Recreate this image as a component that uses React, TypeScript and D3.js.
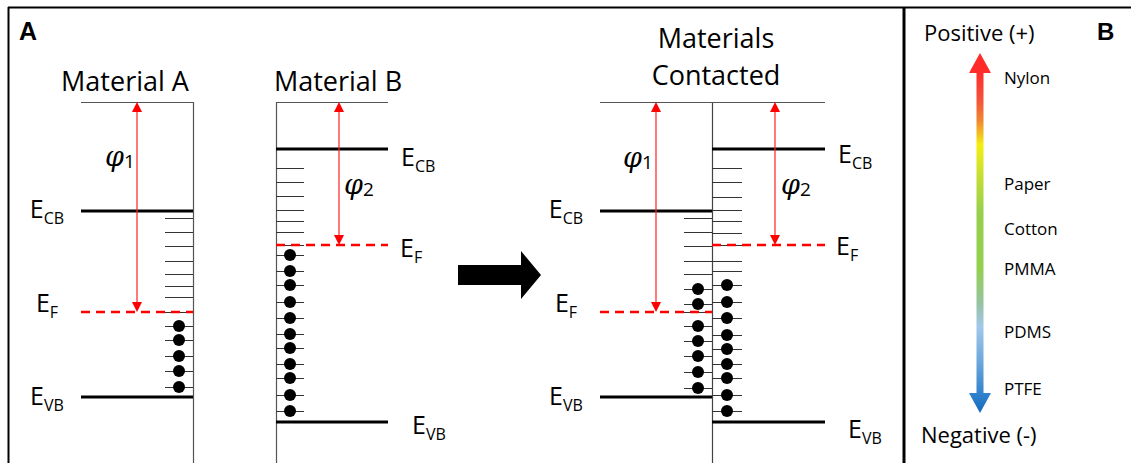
import React from 'react';
import * as d3 from 'd3';

// energies in eV below the vacuum level (0)
const matA_levels = { cb: -2.725, f: -5.25, vb: -7.375 };
const matA_empty = [-2.9, -3.25, -3.6, -3.975, -4.3, -4.6, -4.875];
const matA_filled = [-5.6, -5.95, -6.35, -6.725, -7.125];

const matB_levels = { cb: -1.175, f: -3.575, vb: -8.0 };
const matB_empty = [-1.65, -2.0, -2.35, -2.7, -2.975, -3.25];
const matB_filled = [-3.825, -4.225, -4.575, -5.0, -5.4, -5.8, -6.15, -6.55, -6.9, -7.325, -7.725];

const contactL_empty = [-2.9, -3.25, -3.6, -3.975, -4.3];
const contactL_filled = [-4.675, -5.05, -5.6, -5.975, -6.35, -6.75, -7.15];
const contactR_empty = [-1.65, -2.0, -2.375, -2.7, -2.975, -3.275, -3.975, -4.225];
const contactR_filled = [-4.575, -5.0, -5.4, -5.825, -6.175, -6.55, -6.9, -7.325, -7.725];

// triboelectric series, +1 = most positive
const triboNames = ['Nylon', 'Paper', 'Cotton', 'PMMA', 'PDMS', 'PTFE'];
const triboValues = [0.861, 0.272, 0.022, -0.2, -0.55, -0.867];

const FONT = "'Open Sans', sans-serif";
const yE = d3.scaleLinear().domain([0, -8]).range([102, 422]);
const yT = d3.scaleLinear().domain([1, -1]).range([53, 413]);
// snap thin lines to the pixel grid so they stay dark
const ySnap = (e: number) => Math.round(yE(e)) + 0.5;

type Block = {
  x0: number; x1: number; wall: number; tick: [number, number]; dotX: number; arrowX: number;
  levels: { cb: number; f: number; vb: number };
  empty: number[]; filled: number[];
  side: 'left' | 'right';
  labelX: number[]; labelDy: number[];
  phi: string; phiX: number; phiY: number;
};

const blocks: Block[] = [
  { x0: 81, x1: 193, wall: 193, tick: [165, 193], dotX: 179, arrowX: 137, levels: matA_levels,
    empty: matA_empty, filled: matA_filled, side: 'left', labelX: [47, 47, 47], labelDy: [7, 0, 8],
    phi: '1', phiX: 105, phiY: 166 },
  { x0: 276, x1: 388, wall: 276, tick: [276, 304], dotX: 290, arrowX: 339, levels: matB_levels,
    empty: matB_empty, filled: matB_filled, side: 'right', labelX: [401, 400, 412], labelDy: [17, 12, 12],
    phi: '2', phiX: 344, phiY: 194 },
  { x0: 600, x1: 712, wall: 712, tick: [684, 712], dotX: 698, arrowX: 656, levels: matA_levels,
    empty: contactL_empty, filled: contactL_filled, side: 'left', labelX: [566, 566, 566], labelDy: [7, 0, 8],
    phi: '1', phiX: 623, phiY: 167 },
  { x0: 712, x1: 825, wall: 712, tick: [712, 742], dotX: 727, arrowX: 775, levels: matB_levels,
    empty: contactR_empty, filled: contactR_filled, side: 'right', labelX: [838, 836, 848], labelDy: [14, 10, 16],
    phi: '2', phiX: 781, phiY: 194 },
];

const ELabel = ({ x, y, sub, anchor }: { x: number; y: number; sub: string; anchor: string }) => (
  <text x={x} y={y} fontFamily={FONT} fontSize={25} textAnchor={anchor} fill="#000">
    E<tspan fontSize={16} dy={6}>{sub}</tspan>
  </text>
);

const RedArrow = ({ x, y0, y1 }: { x: number; y0: number; y1: number }) => (
  <g>
    <line x1={x} x2={x} y1={y0 + 8} y2={y1 - 8} stroke="#ff2020" strokeWidth={1.2} />
    <path d={`M${x},${y0} L${x - 5},${y0 + 10} L${x + 5},${y0 + 10} Z`} fill="#ff0000" />
    <path d={`M${x},${y1} L${x - 5},${y1 - 10} L${x + 5},${y1 - 10} Z`} fill="#ff0000" />
  </g>
);

const BandBlock = ({ b }: { b: Block }) => {
  const names = ['CB', 'F', 'VB'];
  const vals = [b.levels.cb, b.levels.f, b.levels.vb];
  return (
    <g>
      <line x1={b.x0} x2={b.x1} y1={ySnap(0)} y2={ySnap(0)} stroke="#555" strokeWidth={1} />
      {b.empty.map((e, i) => (
        <line key={'e' + i} x1={b.tick[0]} x2={b.tick[1]} y1={ySnap(e)} y2={ySnap(e)} stroke="#333" strokeWidth={1} />
      ))}
      {b.filled.map((e, i) => (
        <g key={'f' + i}>
          <line x1={b.tick[0]} x2={b.tick[1]} y1={ySnap(e)} y2={ySnap(e)} stroke="#333" strokeWidth={1} />
          <circle cx={b.dotX} cy={yE(e)} r={6} fill="#000" />
        </g>
      ))}
      <line x1={b.tick[0]} x2={b.tick[1]} y1={ySnap(b.levels.f)} y2={ySnap(b.levels.f)} stroke="#333" strokeWidth={1} />
      <line x1={b.x0} x2={b.x1} y1={yE(b.levels.cb)} y2={yE(b.levels.cb)} stroke="#000" strokeWidth={3} />
      <line x1={b.x0} x2={b.x1} y1={yE(b.levels.vb)} y2={yE(b.levels.vb)} stroke="#000" strokeWidth={3} />
      <line x1={b.x0} x2={b.x1} y1={yE(b.levels.f)} y2={yE(b.levels.f)} stroke="#ff0000"
        strokeWidth={2.5} strokeDasharray="9,6" />
      <RedArrow x={b.arrowX} y0={yE(0)} y1={yE(b.levels.f)} />
      <text x={b.phiX} y={b.phiY} fontFamily="'DejaVu Serif', serif" fontStyle="italic" fontSize={27}>
        φ<tspan fontFamily={FONT} fontStyle="normal" fontSize={19} dy={2}>{b.phi}</tspan>
      </text>
      {vals.map((v, i) => (
        <ELabel key={names[i]} x={b.labelX[i]} y={yE(v) + b.labelDy[i]} sub={names[i]}
          anchor={b.side === 'left' ? 'middle' : 'start'} />
      ))}
    </g>
  );
};

export default function App() {
  const ax = 980;
  const top = yT(1);
  const bot = yT(-1);
  return (
    <svg width={1131} height={463} style={{ position: 'absolute', left: 0, top: 0, background: '#fff' }}>
      <defs>
        <linearGradient id="tribo" gradientUnits="userSpaceOnUse" x1={0} x2={0} y1={top} y2={bot}>
          <stop offset="0.05" stopColor="#ff2a2a" />
          <stop offset="0.13" stopColor="#f4523a" />
          <stop offset="0.19" stopColor="#ef8a30" />
          <stop offset="0.255" stopColor="#f4ef10" />
          <stop offset="0.34" stopColor="#c6df34" />
          <stop offset="0.44" stopColor="#98cf4c" />
          <stop offset="0.6" stopColor="#92d050" />
          <stop offset="0.7" stopColor="#98c2a6" />
          <stop offset="0.76" stopColor="#a2c8ea" />
          <stop offset="0.86" stopColor="#6aa6dc" />
          <stop offset="1" stopColor="#0f6cc0" />
        </linearGradient>
      </defs>

      {/* frame */}
      <line x1={8} x2={1131} y1={7.5} y2={7.5} stroke="#000" strokeWidth={2} />
      <line x1={8.5} x2={8.5} y1={7} y2={463} stroke="#000" strokeWidth={2} />
      <line x1={904} x2={904} y1={7} y2={463} stroke="#000" strokeWidth={3} />

      <text x={19} y={40} fontFamily="'Liberation Sans', Arial, sans-serif" fontWeight="bold" fontSize={25}>A</text>
      <text x={1097} y={40} fontFamily="'Liberation Sans', Arial, sans-serif" fontWeight="bold" fontSize={24}>B</text>

      {/* material walls */}
      <line x1={193.5} x2={193.5} y1={yE(0)} y2={463} stroke="#555" strokeWidth={1.2} />
      <line x1={276.5} x2={276.5} y1={yE(0)} y2={463} stroke="#555" strokeWidth={1.2} />
      <line x1={712.5} x2={712.5} y1={yE(0)} y2={463} stroke="#444" strokeWidth={1.2} />

      {blocks.map((b, i) => <BandBlock key={i} b={b} />)}

      <text x={125} y={91} fontFamily={FONT} fontSize={27} textAnchor="middle">Material A</text>
      <text x={338} y={91} fontFamily={FONT} fontSize={27} textAnchor="middle">Material B</text>
      <text x={716} y={48} fontFamily={FONT} fontSize={27} textAnchor="middle">Materials</text>
      <text x={716} y={85} fontFamily={FONT} fontSize={27} textAnchor="middle">Contacted</text>

      {/* contact arrow */}
      <path d="M458,265 L521,265 L521,251 L541,275 L521,299 L521,285 L458,285 Z" fill="#000" />

      {/* triboelectric series */}
      <path
        d={`M${ax},${top} L${ax + 11},${top + 20} L${ax + 3.5},${top + 20} L${ax + 3.5},${bot - 20}
            L${ax + 11},${bot - 20} L${ax},${bot} L${ax - 11},${bot - 20} L${ax - 3.5},${bot - 20}
            L${ax - 3.5},${top + 20} L${ax - 11},${top + 20} Z`}
        fill="url(#tribo)"
      />
      <text x={924} y={41} fontFamily={FONT} fontSize={22}>Positive (+)</text>
      <text x={921} y={443} fontFamily={FONT} fontSize={22}>Negative (-)</text>
      {triboNames.map((n, i) => (
        <text key={n} x={1004} y={yT(triboValues[i]) + 6} fontFamily={FONT} fontSize={17}>{n}</text>
      ))}
    </svg>
  );
}
